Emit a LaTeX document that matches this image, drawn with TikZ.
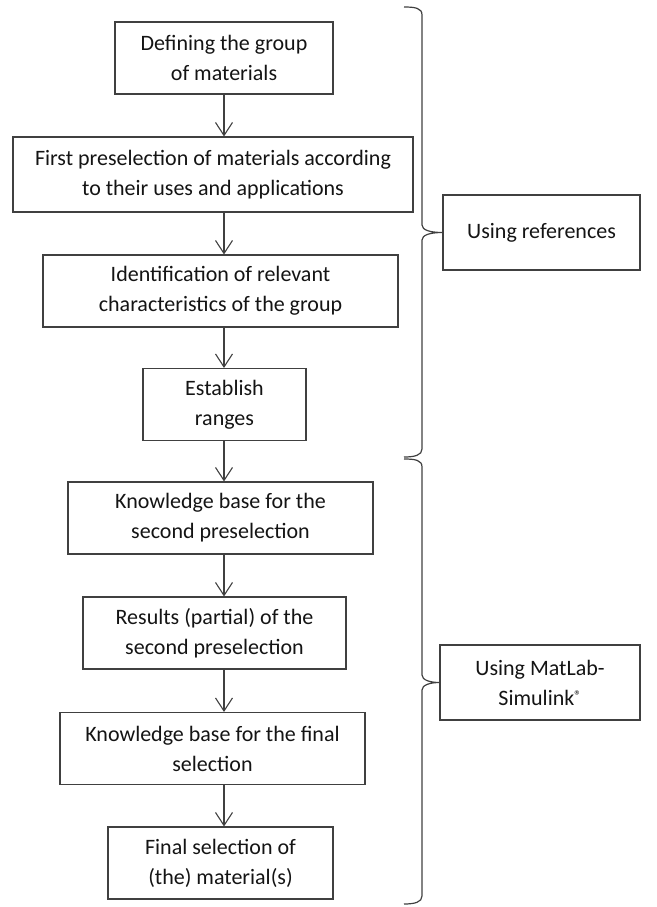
\documentclass[tikz,border=0pt]{standalone}
\usepackage{fontspec}
\setmainfont{Carlito}
\usepackage{xcolor}
\usepackage{tikz}
\usetikzlibrary{arrows.meta}
\definecolor{linegray}{HTML}{404040}
\definecolor{textgray}{HTML}{141414}
\tikzset{
	box node/.style={rectangle,draw=linegray,line width=1.1pt,inner sep=0pt,align=center,
		minimum height=72pt,text=textgray,font=\fontsize{22}{30}\selectfont},
	side node/.style={box node,minimum height=75pt},
	brace line/.style={draw=linegray,line width=1.2pt}
}

\begin{document}
\begin{tikzpicture}[x=1pt,y=-1pt,>={Straight Barb[length=13pt,width=17pt,line width=1.1pt]}]
	\useasboundingbox (0,0) rectangle (656,907);
	% flow of boxes
	\node [box node,minimum width=218pt] (1) at (224,58) {Defining the group\\of materials};
	\node [box node,minimum width=400pt,minimum height=75pt] (2) at (213,174.5) {First preselection of materials according\\to their uses and applications};
	\node [box node,minimum width=355pt] (3) at (220.5,291) {Identification of relevant\\characteristics of the group};
	\node [box node,minimum width=163pt] (4) at (224.5,404.5) {Establish\\ranges};
	\node [box node,minimum width=305pt] (5) at (220.5,518) {Knowledge base for the\\second preselection};
	\node [box node,minimum width=263pt] (6) at (214.5,633) {Results (partial) of the\\second preselection};
	\node [box node,minimum width=305pt] (7) at (212.5,748.5) {Knowledge base for the final\\selection};
	\node [box node,minimum width=225pt] (8) at (220.5,863) {Final selection of\\(the) material(s)};
	% side boxes
	\node [side node,minimum width=197pt] (r1) at (541.5,232.5) {Using references};
	\node [side node,minimum width=200pt] (r2) at (540,682.5) {Using MatLab-\\Simulink\raisebox{5pt}{\fontsize{14}{14}\selectfont\textregistered}};
	% arrows
	\coordinate (ax) at (224,0);
	\foreach \a/\b in {1/2,2/3,3/4,4/5,5/6,6/7,7/8}
		\draw [->,draw=linegray,line width=1.1pt] (\a.south -| ax) -- (\b.north -| ax);
	% braces
	\path [brace line] (404,7) .. controls (415,7) and (422,8) .. (422,15) -- (422,225)
		.. controls (422,230) and (430,232.5) .. (r1.west) .. controls (430,232.5) and (422,235) .. (422,240)
		-- (422,449) .. controls (422,455) and (415,457) .. (404,457);
	\path [brace line] (404,459) .. controls (415,459) and (422,460) .. (422,467) -- (422,675)
		.. controls (422,680) and (430,682.5) .. (r2.west) .. controls (430,682.5) and (422,685) .. (422,690)
		-- (422,896) .. controls (422,902) and (415,904) .. (404,904);
\end{tikzpicture}
\end{document}
